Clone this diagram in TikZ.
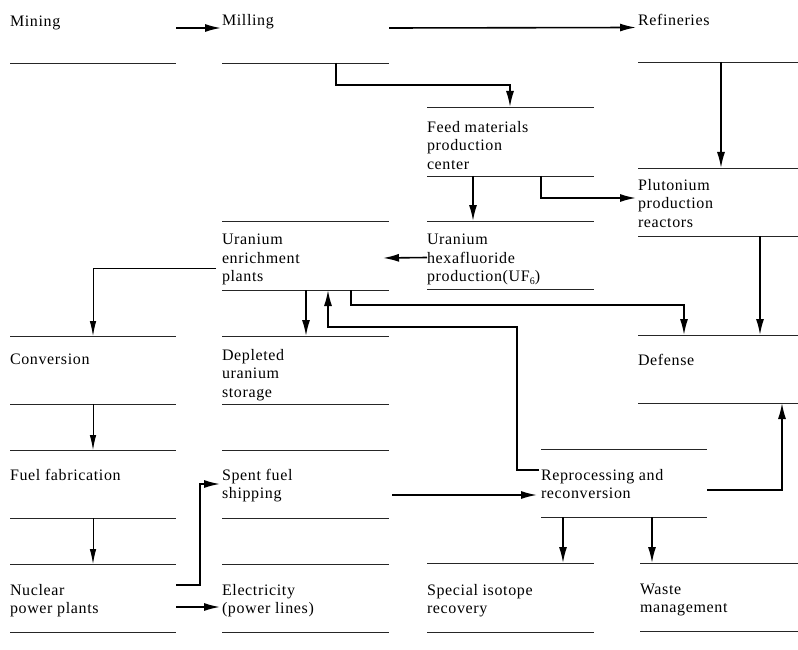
\documentclass[tikz,border=0pt]{standalone}
\usepackage{fontspec}
\setmainfont{Liberation Serif}[LetterSpace=4]
\usetikzlibrary{arrows.meta,calc}
\tikzset{
  block/.style={draw=none,inner sep=0pt,outer sep=0pt,anchor=north west},
  rule/.style={line width=0.8pt,black!85},
  txt/.style={anchor=north west,inner sep=0pt,outer sep=0pt,align=left,
    font=\fontsize{16}{18.5}\selectfont},
  tipbig/.tip={Latex[length=16pt,width=8pt]},
  tipthin/.tip={Latex[length=15pt,width=6.5pt]},
  arr/.style={line width=1.6pt,-tipbig},
  thinarr/.style={line width=0.9pt,-tipthin},
}
\newcommand{\blk}[6]{% name, x1, x2, ytop, ybot, rules(0=bottom only,1=both)
  \node[block,minimum width=#3pt-#2pt,minimum height=#5pt-#4pt] (#1) at (#2,#4) {};
  \ifnum#6=1 \draw[rule] (#1.north west) -- (#1.north east);\fi
  \draw[rule] (#1.south west) -- (#1.south east);}
\begin{document}
\begin{tikzpicture}[x=1pt,y=-1pt]
\useasboundingbox (0,0) rectangle (798,650);
% blocks
\blk{mining}{10}{176}{0}{63}{0}
\blk{milling}{222}{389}{0}{63}{0}
\blk{refin}{638}{798}{0}{62}{0}
\blk{feed}{427}{594}{107}{176}{1}
\blk{pluto}{638}{798}{168}{236}{1}
\blk{uf6}{427}{594}{221}{289}{1}
\blk{enrich}{222}{389}{221}{290}{1}
\blk{conv}{10}{176}{336}{404}{1}
\blk{deplet}{222}{389}{336}{404}{1}
\blk{defense}{638}{798}{335}{403}{1}
\blk{fuel}{10}{176}{450}{518}{1}
\blk{spent}{222}{389}{450}{518}{1}
\blk{repro}{541}{707}{449}{517}{1}
\blk{npp}{10}{176}{564}{632}{1}
\blk{elec}{222}{389}{564}{632}{1}
\blk{special}{427}{594}{563}{632}{1}
\blk{waste}{640}{798}{563}{631}{1}
% texts
\node[txt] (tmining) at (10,16) {Mining};
\node[txt] (tmilling) at (222,14) {Milling};
\node[txt] (trefin) at (638,14) {Refineries};
\node[txt] (tfeed) at (427,121) {Feed materials\\production\\center};
\node[txt] (tpluto) at (638,179) {Plutonium\\production\\reactors};
\node[txt] (tenrich) at (222,234) {Uranium\\enrichment\\plants};
\node[txt] (tuf6) at (427,234) {Uranium\\hexafluoride\\production(UF{\fontsize{10}{10}\selectfont\raisebox{-2.5pt}{6}})};
\node[txt] (tconv) at (10,354) {Conversion};
\node[txt] (tdeplet) at (222,349) {Depleted\\uranium\\storage};
\node[txt] (tdefense) at (638,354) {Defense};
\node[txt] (tfuel) at (10,469) {Fuel fabrication};
\node[txt] (tspent) at (222,469) {Spent fuel\\shipping};
\node[txt] (trepro) at (541,469) {Reprocessing and\\reconversion};
\node[txt] (tnpp) at (10,584) {Nuclear\\power plants};
\node[txt] (telec) at (222,584) {Electricity\\(power lines)};
\node[txt] (tspecial) at (427,584) {Special isotope\\recovery};
\node[txt] (twaste) at (640,584) {Waste\\management};
% connectors
\draw[arr] ([yshift=3.5pt]mining.east) -- ([xshift=-1pt,yshift=3.5pt]milling.west);
\draw[arr] ([yshift=3.5pt]milling.east) -- ([xshift=-2pt,yshift=3.5pt]refin.west);
\draw[arr] ([xshift=114pt]milling.south west) -- ++(0,22) -| ([xshift=83pt]feed.north west);
\draw[arr] ([xshift=83pt]refin.south west) -- ([xshift=83pt]pluto.north west);
\draw[arr] ([xshift=46pt]feed.south west) -- ([xshift=46pt]uf6.north west);
\draw[arr] ([xshift=114pt]feed.south west) |- ([xshift=-2pt,yshift=4pt]pluto.west);
\draw[arr] ([yshift=-2.5pt]uf6.west) -- ([xshift=-6pt,yshift=-2.5pt]enrich.east);
\draw[thinarr] ([xshift=-6pt,yshift=-12.5pt]enrich.west) -| ([xshift=83pt]conv.north west);
\draw[arr] ([xshift=84pt]enrich.south west) -- ([xshift=84pt]deplet.north west);
\draw[arr] ([xshift=-2pt,yshift=13pt]repro.west) -- ++(-22,0) -- ++(0,-143) -| ([xshift=106pt]enrich.south west);
\draw[arr] ([xshift=129pt]enrich.south west) -- ++(0,15) -| ([xshift=46pt]defense.north west);
\draw[arr] ([xshift=122pt]pluto.south west) -- ([xshift=122pt]defense.north west);
\draw[thinarr] ([xshift=83pt]conv.south west) -- ([xshift=83pt]fuel.north west);
\draw[thinarr] ([xshift=83pt]fuel.south west) -- ([xshift=83pt]npp.north west);
\draw[arr] ([yshift=13pt]npp.east) -- ++(24,0) |- ([xshift=-2pt]spent.west);
\draw[arr] ([yshift=-9pt]npp.east) -- ([xshift=-2pt,yshift=-9pt]elec.west);
\draw[arr] ([xshift=3pt,yshift=-11pt]spent.east) -- ([xshift=-4pt,yshift=-11pt]spent.east -| repro.west);
\draw[arr] ([yshift=-7pt]repro.east) -| ([xshift=144pt]defense.south west);
\draw[arr] ([xshift=22pt]repro.south west) -- ([xshift=22pt]repro.south west |- special.north);
\draw[arr] ([xshift=111pt]repro.south west) -- ([xshift=111pt]repro.south west |- waste.north);
\end{tikzpicture}
\end{document}
